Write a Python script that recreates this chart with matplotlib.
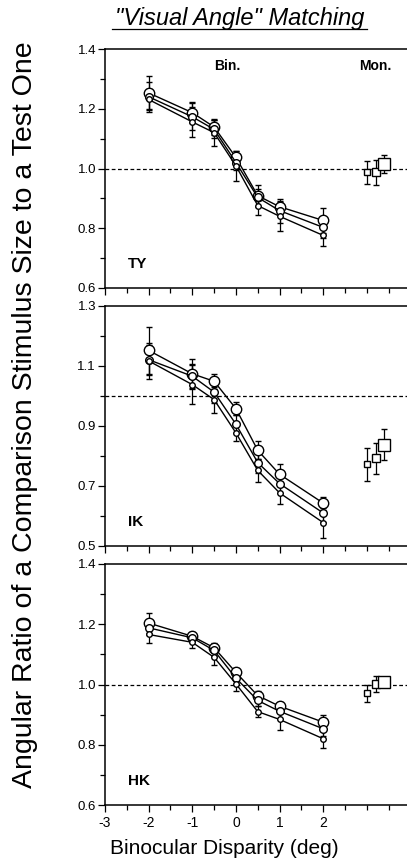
import matplotlib
matplotlib.use("Agg")
import matplotlib.pyplot as plt
import numpy as np

plt.rcParams['font.family'] = ['Liberation Sans', 'DejaVu Sans']

disparity = [-2, -1, -0.5, 0, 0.5, 1, 2]
mon_x = [3.0, 3.2, 3.4]
subjects = ["TY", "IK", "HK"]

# TY
ty_large = [1.253, 1.187, 1.139, 1.037, 0.909, 0.872, 0.826]
ty_med = [1.240, 1.173, 1.131, 1.020, 0.903, 0.859, 0.803]
ty_small = [1.231, 1.156, 1.120, 1.009, 0.876, 0.840, 0.776]
ty_large_err = [0.055, 0.036, 0.026, 0.022, 0.037, 0.020, 0.041]
ty_med_err = [0.050, 0.045, 0.030, 0.025, 0.030, 0.040, 0.035]
ty_small_err = [0.035, 0.049, 0.044, 0.050, 0.030, 0.048, 0.036]
ty_mon = [0.987, 0.987, 1.014]
ty_mon_err = [0.039, 0.042, 0.030]

# IK
ik_large = [1.152, 1.074, 1.049, 0.958, 0.819, 0.739, 0.643]
ik_med = [1.121, 1.066, 1.013, 0.906, 0.778, 0.708, 0.610]
ik_small = [1.117, 1.038, 0.988, 0.877, 0.752, 0.677, 0.578]
ik_large_err = [0.078, 0.050, 0.026, 0.022, 0.030, 0.036, 0.022]
ik_med_err = [0.050, 0.040, 0.035, 0.030, 0.035, 0.030, 0.030]
ik_small_err = [0.061, 0.066, 0.043, 0.027, 0.039, 0.038, 0.050]
ik_mon = [0.772, 0.793, 0.838]
ik_mon_err = [0.054, 0.052, 0.051]

# HK
hk_large = [1.204, 1.160, 1.122, 1.040, 0.963, 0.928, 0.875]
hk_med = [1.188, 1.155, 1.113, 1.021, 0.947, 0.911, 0.853]
hk_small = [1.166, 1.140, 1.090, 1.002, 0.910, 0.884, 0.820]
hk_large_err = [0.032, 0.015, 0.015, 0.015, 0.017, 0.015, 0.024]
hk_med_err = [0.025, 0.015, 0.020, 0.020, 0.020, 0.025, 0.025]
hk_small_err = [0.028, 0.020, 0.024, 0.022, 0.019, 0.034, 0.030]
hk_mon = [0.971, 1.002, 1.008]
hk_mon_err = [0.029, 0.027, 0.015]

panels = [
    (ty_large, ty_med, ty_small, ty_large_err, ty_med_err, ty_small_err, ty_mon, ty_mon_err, (0.6, 1.4), [0.6, 0.8, 1.0, 1.2, 1.4]),
    (ik_large, ik_med, ik_small, ik_large_err, ik_med_err, ik_small_err, ik_mon, ik_mon_err, (0.5, 1.3), [0.5, 0.7, 0.9, 1.1, 1.3]),
    (hk_large, hk_med, hk_small, hk_large_err, hk_med_err, hk_small_err, hk_mon, hk_mon_err, (0.6, 1.4), [0.6, 0.8, 1.0, 1.2, 1.4]),
]

W, H = 407, 865
fig = plt.figure(figsize=(W / 100, H / 100), dpi=100)

# pixel boxes (top, bottom)
boxes = [(49, 288), (306, 546), (564, 805)]
left_px = 105
right_px = 407

circ_sizes = [7.5, 5.5, 4.0]
sq_sizes = [4.0, 6.0, 9.0]

for i, (box, pdata) in enumerate(zip(boxes, panels)):
    top, bot = box
    ax = fig.add_axes([left_px / W, 1 - bot / H, (right_px - left_px) / W, (bot - top) / H])
    large, med, small, le, me, se, mon, mone, ylim, yticks = pdata
    ax.axhline(1.0, color='black', lw=0.9, ls=(0, (3, 2)), zorder=1)
    for vals, errs, ms in [(large, le, circ_sizes[0]), (med, me, circ_sizes[1]), (small, se, circ_sizes[2])]:
        ax.errorbar(disparity, vals, yerr=errs, fmt='-o', color='black', lw=1.0,
                    mfc='white', mec='black', mew=1.0, ms=ms, capsize=2.5, elinewidth=0.9,
                    capthick=0.9, zorder=3)
    for xv, yv, ev, ms in zip(mon_x, mon, mone, sq_sizes):
        ax.errorbar([xv], [yv], yerr=[ev], fmt='s', color='black', mfc='white', mec='black',
                    mew=1.0, ms=ms, capsize=2.5, elinewidth=0.9, capthick=0.9, zorder=3)
    ax.set_xlim(-3, 3.92)
    ax.set_ylim(*ylim)
    ax.set_yticks(yticks)
    ax.set_yticklabels([f"{t:.1f}" for t in yticks], fontsize=9.5)
    ax.set_yticks(np.arange(ylim[0] + 0.1, ylim[1], 0.2), minor=True)
    ax.set_xticks([-3, -2, -1, 0, 1, 2])
    ax.set_xticks([-2.5, -1.5, -0.5, 0.5, 1.5, 2.5, 3, 3.5], minor=True)
    ax.tick_params(axis='both', which='major', direction='out', length=5, width=0.9, pad=1.5)
    ax.tick_params(axis='both', which='minor', direction='out', length=3.5, width=0.9)
    ax.spines['right'].set_visible(False)
    for s in ['left', 'bottom', 'top']:
        ax.spines[s].set_linewidth(1.1)
    if i < 2:
        ax.set_xticklabels([])
    else:
        ax.set_xticklabels(["-3", "-2", "-1", "0", "1", "2"], fontsize=10)
        ax.tick_params(axis='x', which='major', pad=3)
    ax.text(0.075, 0.1, subjects[i], transform=ax.transAxes, fontsize=11, fontweight='bold',
            ha='left', va='center')
    if i == 0:
        ax.text(-0.2, 1.343, "Bin.", fontsize=10, fontweight='bold', ha='center', va='center')
        ax.text(3.2, 1.343, "Mon.", fontsize=10, fontweight='bold', ha='center', va='center')

fig.text(240 / W, 1 - 19 / H, '"Visual Angle" Matching', fontsize=17, style='italic',
         ha='center', va='center')
fig.add_artist(plt.Line2D([112 / W, 367 / W], [1 - 29 / H, 1 - 29 / H], color='black', lw=0.9))
fig.text(25 / W, 1 - 415 / H, "Angular Ratio of a Comparison Stimulus Size to a Test One",
         rotation=90, fontsize=20.5, ha='center', va='center')
fig.text(224 / W, 1 - 848 / H, "Binocular Disparity (deg)", fontsize=15, ha='center', va='center')

fig.savefig("out.png", dpi=100)
